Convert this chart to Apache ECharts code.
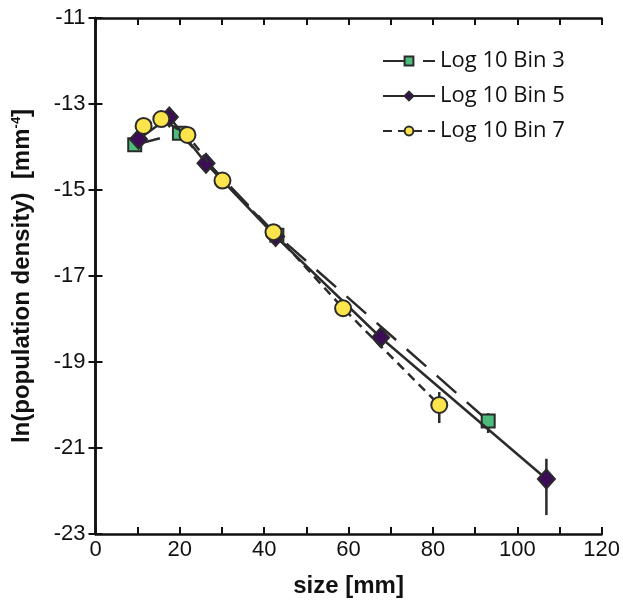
<!DOCTYPE html>
<html><head><meta charset="utf-8">
<script src="https://cdn.jsdelivr.net/npm/echarts@6/dist/echarts.min.js"></script>
<style>html,body{margin:0;padding:0;background:#fff}#c{width:623px;height:608px}</style>
</head><body><div id="c"></div>
<script>
const seriesNames = ['Log 10 Bin 3', 'Log 10 Bin 5', 'Log 10 Bin 7'];
const bin3X = [9.3, 19.9, 43.0, 93.1];
const bin3Y = [-13.95, -13.68, -16.05, -20.37];
const bin5X = [10.2, 17.5, 26.2, 42.7, 67.6, 106.9];
const bin5Y = [-13.82, -13.30, -14.38, -16.08, -18.43, -21.72];
const bin7X = [11.4, 15.6, 21.8, 30.1, 42.2, 58.7, 81.5];
const bin7Y = [-13.51, -13.35, -13.72, -14.78, -15.98, -17.75, -20.0];
const errX = [81.5, 93.1, 106.9];
const errLo = [-20.42, -20.65, -22.56];
const errHi = [-19.70, -20.19, -21.25];
const xTickLabels = [0, 20, 40, 60, 80, 100, 120];
const yTickLabels = [-23, -21, -19, -17, -15, -13, -11];

const zip = (a, b) => a.map((v, i) => [v, b[i]]);
const ink = '#2b2b2b';
const chart = echarts.init(document.getElementById('c'));

function errBars(params, api) {
  const p1 = api.coord([api.value(0), api.value(1)]);
  const p2 = api.coord([api.value(0), api.value(2)]);
  return {type: 'line', shape: {x1: p1[0], y1: p1[1], x2: p2[0], y2: p2[1]},
          style: {stroke: ink, lineWidth: 2.5}};
}

const axisCommon = {
  axisLine: {lineStyle: {color: '#111', width: 2.5}},
  splitLine: {show: false}
};

chart.setOption({
  animation: false,
  backgroundColor: '#fff',
  grid: {left: 95.5, right: 17.5, top: 18, bottom: 74},
  legend: {
    data: seriesNames, orient: 'vertical', left: 377, top: 45,
    itemWidth: 52, itemHeight: 11, itemGap: 13,
    textStyle: {fontFamily: 'Open Sans', fontSize: 22, color: '#111'}
  },
  xAxis: [{
    ...axisCommon, type: 'value', min: 0, max: 120, interval: 10,
    name: 'size [mm]', nameLocation: 'middle', nameGap: 40,
    nameTextStyle: {fontFamily: 'Liberation Sans', fontWeight: 'bold', fontSize: 24, color: '#111'},
    axisTick: {inside: true, length: 7, lineStyle: {color: '#111', width: 2}},
    axisLabel: {customValues: xTickLabels, fontFamily: 'Liberation Sans', fontSize: 22, color: '#111', margin: 5}
  }, {
    ...axisCommon, type: 'value', position: 'top', min: 0, max: 120, interval: 10,
    axisTick: {inside: true, length: 7, lineStyle: {color: '#111', width: 2}},
    axisLabel: {show: false}
  }],
  yAxis: [{
    ...axisCommon, type: 'value', min: -23, max: -11,
    name: 'ln(population density)  [mm{sup|-4}]', nameLocation: 'middle', nameGap: 61,
    nameTextStyle: {fontFamily: 'Liberation Sans', fontWeight: 'bold', fontSize: 24, color: '#111',
      rich: {sup: {fontFamily: 'Liberation Sans', fontWeight: 'bold', fontSize: 13, color: '#111', verticalAlign: 'top', padding: [0, 0, 12, 0]}}},
    axisTick: {inside: true, length: 7, customValues: yTickLabels, lineStyle: {color: '#111', width: 2}},
    axisLabel: {customValues: yTickLabels, fontFamily: 'Liberation Sans', fontSize: 22, color: '#111', margin: 10}
  }, {
    ...axisCommon, type: 'value', position: 'right', min: -23, max: -11,
    axisTick: {inside: true, length: 7, customValues: yTickLabels, lineStyle: {color: '#111', width: 2}},
    axisLabel: {show: false}
  }],
  series: [
    {type: 'custom', renderItem: errBars, z: 1, silent: true,
     data: errX.map((x, i) => [x, errLo[i], errHi[i]])},
    {name: seriesNames[0], type: 'line', z: 2, data: zip(bin3X, bin3Y),
     symbol: 'rect', symbolSize: 13,
     lineStyle: {color: ink, width: 2.5, type: [26, 14]},
     itemStyle: {color: '#4cbb7b', borderColor: ink, borderWidth: 2}},
    {name: seriesNames[1], type: 'line', z: 3, data: zip(bin5X, bin5Y),
     symbol: 'diamond', symbolSize: [17, 19],
     lineStyle: {color: ink, width: 2.5},
     itemStyle: {color: '#3c0c57', borderColor: ink, borderWidth: 2}},
    {name: seriesNames[2], type: 'line', z: 4, data: zip(bin7X, bin7Y),
     symbol: 'circle', symbolSize: 16,
     lineStyle: {color: ink, width: 2.5, type: [9, 6]},
     itemStyle: {color: '#fbe44c', borderColor: ink, borderWidth: 2}}
  ]
});
</script></body></html>
